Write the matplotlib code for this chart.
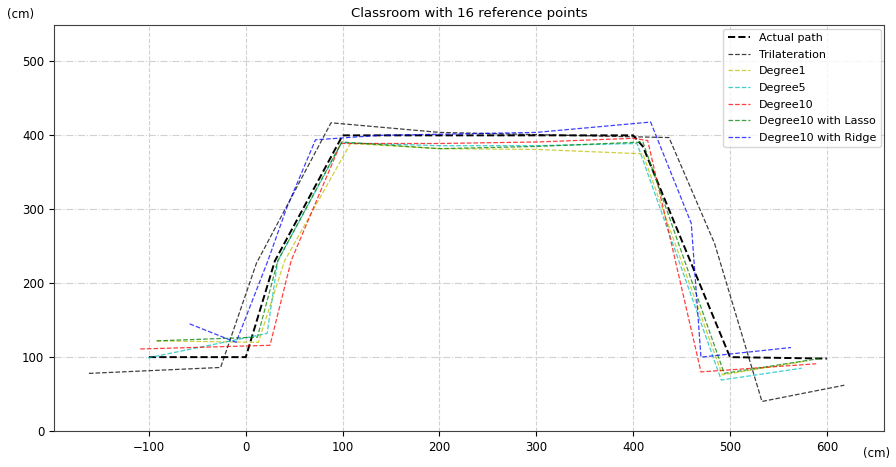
import matplotlib
matplotlib.use("Agg")
import matplotlib.pyplot as plt

# Data (cm)
actual_x = [-100, 0, 30, 100, 200, 300, 400, 410, 500, 600]
actual_y = [100, 100, 230, 400, 400, 400, 400, 385, 100, 98]

tri_x = [-162, -26, 11, 88, 200, 300, 437, 484, 533, 618]
tri_y = [78, 86, 227, 417, 404, 401, 397, 254, 40, 62]

deg1_x = [-92, 13, 40, 108, 200, 300, 410, 492, 580]
deg1_y = [122, 120, 230, 389, 382, 381, 375, 76, 95]

deg5_x = [-101, 22, 33, 99, 200, 300, 404, 491, 574]
deg5_y = [99, 132, 230, 390, 386, 386, 389, 69, 85]

deg10_x = [-109, 25, 47, 98, 200, 300, 400, 415, 470, 589]
deg10_y = [111, 116, 231, 389, 389, 391, 396, 393, 80, 91]

lasso_x = [-92, 12, 33, 99, 200, 300, 410, 494, 592]
lasso_y = [122, 127, 230, 391, 382, 385, 391, 78, 98]

ridge_x = [-58, -10, 23, 42, 72, 138, 300, 418, 460, 470, 563]
ridge_y = [145, 120, 231, 301, 394, 400, 404, 418, 281, 100, 113]

series = [
    ("Trilateration", tri_x, tri_y, "k"),
    ("Degree1", deg1_x, deg1_y, "y"),
    ("Degree5", deg5_x, deg5_y, "c"),
    ("Degree10", deg10_x, deg10_y, "r"),
    ("Degree10 with Lasso", lasso_x, lasso_y, "g"),
    ("Degree10 with Ridge", ridge_x, ridge_y, "b"),
]

fig = plt.figure(figsize=(8.96, 4.67), dpi=100)
ax = fig.add_axes([0.0603, 0.077, 0.9263, 0.869])

ax.plot(actual_x, actual_y, "k--", linewidth=1.4, label="Actual path")
for name, xs, ys, c in series:
    ax.plot(xs, ys, "--", color=c, linewidth=0.9, alpha=0.75, label=name)

ax.set_xlim(-198, 659)
ax.set_ylim(0, 549)
ax.set_xticks([-100, 0, 100, 200, 300, 400, 500, 600])
ax.set_yticks([0, 100, 200, 300, 400, 500])
ax.xaxis.grid(True, linestyle="--", color="0.82", linewidth=0.8)
ax.yaxis.grid(True, linestyle="-.", color="0.82", linewidth=0.8)
ax.set_axisbelow(True)
for sp in ax.spines.values():
    sp.set_linewidth(0.8)
    sp.set_color("0.25")

ax.set_title("Classroom with 16 reference points", fontsize=9.5)
fig.text(0.008, 0.955, "(cm)", fontsize=8.5, ha="left", va="bottom")
fig.text(0.993, 0.015, "(cm)", fontsize=8.5, ha="right", va="bottom")
ax.tick_params(labelsize=8.5, width=0.8)
ax.legend(loc="upper right", fontsize=8, handlelength=2.0,
          labelspacing=0.6, borderaxespad=0.3, borderpad=0.4)

fig.savefig("out.png", dpi=100)
